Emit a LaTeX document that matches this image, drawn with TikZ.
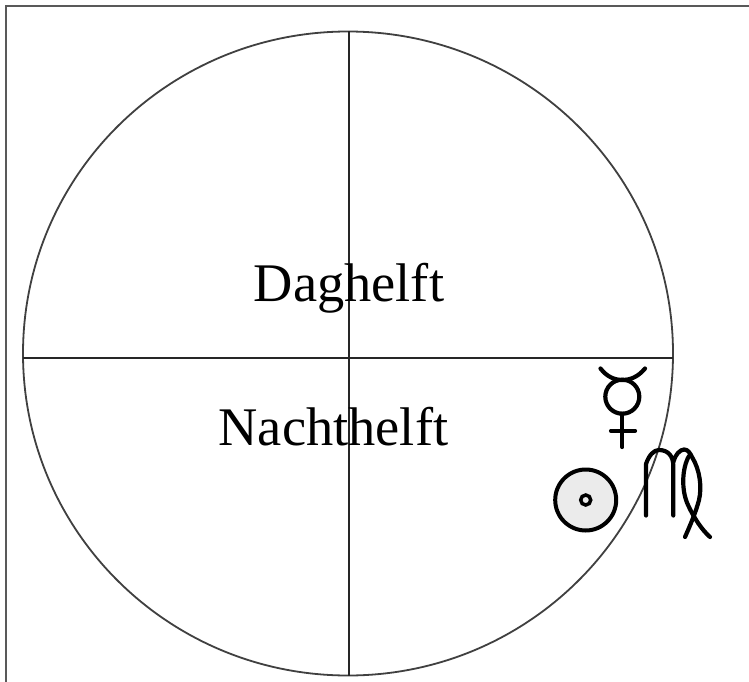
\documentclass[tikz,border=0pt]{standalone}
\usepackage{fontspec}
\setmainfont{Liberation Serif}
\tikzset{
  axisline/.style={line width=2pt,draw=black!85},
  symbolline/.style={line width=4.2pt,draw=black,line cap=round,line join=round},
  lab/.style={font=\fontsize{54.4}{60}\selectfont,inner sep=0pt,text=black,anchor=base}
}
\begin{document}
\begin{tikzpicture}[x=1pt,y=-1pt]
\useasboundingbox (0,0) rectangle (749,682);
\fill[white] (0,0) rectangle (749,682);
% frame
\draw[line width=2pt,draw=black!65] (5.5,682) -- (5.5,6) -- (749,6);
% dial
\coordinate (c) at (348,353.5);
\coordinate (top) at (348.5,31);
\coordinate (bot) at (348.5,675.5);
\coordinate (lft) at (23,357.5);
\coordinate (rgt) at (673,357.5);
\draw[line width=1.8pt,draw=black!75] (c) ellipse [x radius=325,y radius=322];
\draw[axisline] (top) -- (bot);
\draw[axisline] (lft) -- (rgt);
% labels
\node[lab] (day) at (349,301.5) {Daghelft};
\node[lab] (night) at (333.5,445) {Nachthelft};
% Mercury
\draw[symbolline] (622.3,396.7) circle (17);
\draw[symbolline] (600.5,368.5) .. controls (607,377) and (615,380) .. (622.3,380) .. controls (630,380) and (638,377) .. (645,368.5);
\draw[symbolline] (622.3,413.7) -- (622.3,447);
\draw[symbolline] (611,430.7) -- (635,430.7);
% Sun
\draw[line width=4pt,draw=black,fill=black!8] (585.7,500) circle (30.5);
\draw[line width=3.5pt,draw=black,fill=black!8] (585.7,500) circle (5);
% Virgo
\draw[symbolline] (646,515.5) -- (646,464) .. controls (649,455) and (654,450) .. (659,450) .. controls (668,450) and (673.3,456) .. (673.3,466) -- (673.3,515.5);
\draw[symbolline] (673.3,462) .. controls (675,455) and (680,449.5) .. (684,449.5) .. controls (688,449.5) and (690,453) .. (692,457) .. controls (700,470) and (702,487) .. (699,500) .. controls (696,512) and (689,528) .. (685,537);
\draw[symbolline] (689,456) .. controls (682,468) and (681,490) .. (688,505) .. controls (694,518) and (702,530) .. (710,537);
\end{tikzpicture}
\end{document}
